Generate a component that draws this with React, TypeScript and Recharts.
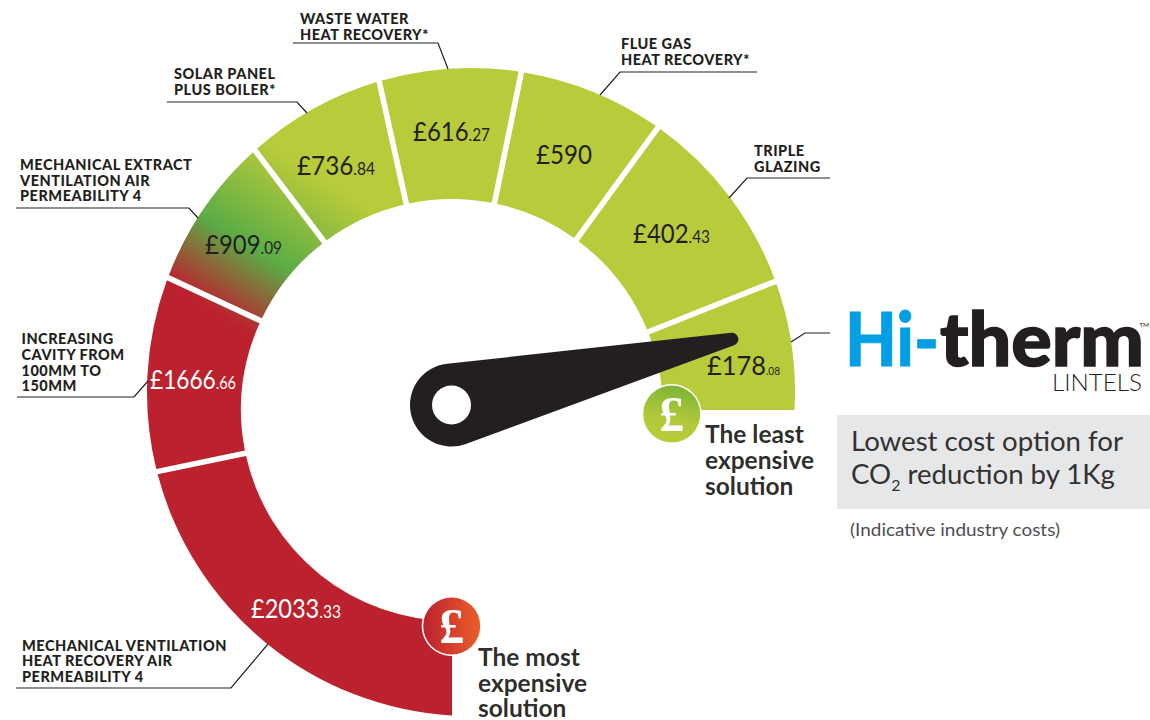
import React from "react";
import { PieChart, Pie } from "recharts";

// ---- data ----
const segmentNames: string[][] = [
  ["HI-THERM LINTELS"],
  ["TRIPLE", "GLAZING"],
  ["FLUE GAS", "HEAT RECOVERY*"],
  ["WASTE WATER", "HEAT RECOVERY*"],
  ["SOLAR PANEL", "PLUS BOILER*"],
  ["MECHANICAL EXTRACT", "VENTILATION AIR", "PERMEABILITY 4"],
  ["INCREASING", "CAVITY FROM", "100MM TO", "150MM"],
  ["MECHANICAL VENTILATION", "HEAT RECOVERY AIR", "PERMEABILITY 4"],
];
const costPounds = ["£178", "£402", "£590", "£616", "£736", "£909", "£1666", "£2033"];
const costPence = [".08", ".43", "", ".27", ".84", ".09", ".66", ".33"];
// angular width of each gauge segment, in degrees
const segmentSweeps = [21.7, 32.2, 24.5, 24.1, 24.7, 27.8, 36.8, 78.2];
const needleAngle = 13.2;

const rows = segmentSweeps.map((sweep, i) => ({
  name: segmentNames[i].join(" "),
  sweep,
  pounds: costPounds[i],
  pence: costPence[i],
}));

// ---- layout ----
const W = 1150;
const H = 720;
const CX = 452;
const CY = 410;
const R_IN = 211;
const OUTER = { cx: 471, cy: 392, r: 324 };
const GAP = 2.8;
const INK = "#231F20";
const BODY_FONT = "Lato, 'Open Sans', sans-serif";

const valueLabelAt = [
  { x: 707, y: 375, w: 73, small: 10.5, fill: INK },
  { x: 633, y: 243, w: 77, small: 17, fill: INK },
  { x: 536, y: 164, w: 56, small: 17, fill: INK },
  { x: 413, y: 141, w: 77, small: 17, fill: INK },
  { x: 297, y: 175, w: 78, small: 17, fill: INK },
  { x: 205, y: 254, w: 77, small: 17, fill: INK },
  { x: 150, y: 389, w: 86, small: 17, fill: "#fff" },
  { x: 251, y: 618, w: 90, small: 17.5, fill: "#fff" },
];

const leaderPaths = [
  "791,342 805,333 830,333",
  "729,198 747,178 830,178",
  "600,95 620,72 757,72",
  "448,69 438,43 293,43",
  "307,113 297,102 167,102",
  "198,218 189,208 16,208",
  "148,381 134,397 17,397",
  "268,644 231,688 16,688",
];
const nameBlocks = [
  { x: 754, ys: [156, 172], lines: segmentNames[1] },
  { x: 621, ys: [49, 65], lines: segmentNames[2] },
  { x: 300, ys: [24, 40], lines: segmentNames[3] },
  { x: 174, ys: [79, 95], lines: segmentNames[4] },
  { x: 20, ys: [170, 185.5, 201], lines: segmentNames[5] },
  { x: 21.5, ys: [344, 360, 375.5, 391], lines: segmentNames[6] },
  { x: 22, ys: [651, 666, 682], lines: segmentNames[7] },
];

// ---- geometry helpers (the outer rim is not concentric with the hub) ----
const rad = (d: number) => (d * Math.PI) / 180;
const dir = (a: number) => ({ x: Math.cos(rad(a)), y: -Math.sin(rad(a)) });
const nrm = (a: number) => ({ x: -Math.sin(rad(a)), y: -Math.cos(rad(a)) });

function hit(o: { x: number; y: number }, u: { x: number; y: number }, k: { cx: number; cy: number; r: number }) {
  const fx = o.x - k.cx;
  const fy = o.y - k.cy;
  const b = fx * u.x + fy * u.y;
  const c = fx * fx + fy * fy - k.r * k.r;
  const t = -b + Math.sqrt(b * b - c);
  return { x: o.x + t * u.x, y: o.y + t * u.y };
}

function GaugeSector(props: any) {
  const { cx, cy, startAngle, endAngle, innerRadius, fill } = props;
  const rim = { cx: cx + (OUTER.cx - CX), cy: cy + (OUTER.cy - CY), r: OUTER.r };
  const hub = { cx, cy, r: innerRadius };
  const gs = Math.abs(startAngle) < 0.01 ? 0 : GAP;
  const ge = Math.abs(endAngle - 270) < 0.01 ? 0 : GAP;
  const ns = nrm(startAngle);
  const ne = nrm(endAngle);
  const os = { x: cx + ns.x * gs, y: cy + ns.y * gs };
  const oe = { x: cx - ne.x * ge, y: cy - ne.y * ge };
  const a = hit(os, dir(startAngle), hub);
  const b = hit(os, dir(startAngle), rim);
  const c = hit(oe, dir(endAngle), rim);
  const d = hit(oe, dir(endAngle), hub);
  const path = `M${a.x},${a.y} L${b.x},${b.y} A${rim.r},${rim.r} 0 0 0 ${c.x},${c.y} L${d.x},${d.y} A${hub.r},${hub.r} 0 0 1 ${a.x},${a.y} Z`;
  return <path d={path} fill={fill} stroke="none" />;
}

function renderValueLabel(props: any) {
  const at = valueLabelAt[props.index];
  const row = rows[props.index];
  return (
    <text x={at.x} y={at.y} fill={at.fill} fontFamily={BODY_FONT} fontSize={26.5} textAnchor="start" textLength={at.w} lengthAdjust="spacingAndGlyphs">
      {row.pounds}
      {row.pence ? <tspan fontSize={at.small}>{row.pence}</tspan> : null}
    </text>
  );
}

function Needle() {
  const r0 = 41.5;
  const r1 = 6.5;
  const len = 288;
  const cx0 = 451.5;
  const cy0 = 405;
  const u = dir(needleAngle);
  const tip = { x: cx0 + u.x * len, y: cy0 + u.y * len };
  const phi = (Math.acos((r0 - r1) / len) * 180) / Math.PI;
  const p = (c: { x: number; y: number }, r: number, a: number) => {
    const v = dir(a);
    return `${c.x + v.x * r},${c.y + v.y * r}`;
  };
  const hubC = { x: cx0, y: cy0 };
  const d = `M${p(hubC, r0, needleAngle + phi)} L${p(tip, r1, needleAngle + phi)} A${r1},${r1} 0 0 1 ${p(tip, r1, needleAngle - phi)} L${p(hubC, r0, needleAngle - phi)} A${r0},${r0} 0 1 1 ${p(hubC, r0, needleAngle + phi)} Z`;
  return (
    <g>
      <path d={d} fill={INK} />
      <circle cx={cx0} cy={cy0} r={19.5} fill="#fff" />
    </g>
  );
}

function Badge({ cx, cy, grad }: { cx: number; cy: number; grad: string }) {
  return (
    <g>
      <circle cx={cx} cy={cy} r={30} fill="#fff" />
      <circle cx={cx} cy={cy} r={28.5} fill={`url(#${grad})`} />
      <text x={cx} y={cy + 17} textAnchor="middle" fill="#fff" fontFamily="'Liberation Serif', serif" fontWeight={700} fontSize={50}>
        £
      </text>
    </g>
  );
}

function Caption({ x, ys, lines }: { x: number; ys: number[]; lines: string[] }) {
  return (
    <g>
      {lines.map((l, i) => (
        <text key={l} x={x} y={ys[i]} fontFamily={BODY_FONT} fontWeight={700} fontSize={24.5} fill={INK} fillOpacity={0.95}>
          {l}
        </text>
      ))}
    </g>
  );
}

export default function App() {
  return (
    <div style={{ position: "absolute", left: 0, top: 0, width: W, height: H, background: "#fff" }}>
      <PieChart width={W} height={H} margin={{ top: 0, right: 0, bottom: 0, left: 0 }}>
        <defs>
          <linearGradient id="gaugeGrad" gradientUnits="userSpaceOnUse" x1={168} y1={280} x2={259.6} y2={139.2}>
            <stop offset="0" stopColor="#BC212E" />
            <stop offset="0.435" stopColor="#5BAC45" />
            <stop offset="1" stopColor="#B8CB3A" />
          </linearGradient>
        </defs>
        <Pie
          data={rows}
          dataKey="sweep"
          nameKey="name"
          cx={CX}
          cy={CY}
          innerRadius={R_IN}
          outerRadius={OUTER.r}
          startAngle={0}
          endAngle={270}
          paddingAngle={0}
          fill="url(#gaugeGrad)"
          stroke="none"
          isAnimationActive={false}
          shape={GaugeSector}
          label={renderValueLabel}
          labelLine={false}
        />
      </PieChart>
      <svg width={W} height={H} style={{ position: "absolute", left: 0, top: 0, pointerEvents: "none" }}>
        <defs>
          <linearGradient id="badgeGreen" x1="0.6" y1="0" x2="0.4" y2="1">
            <stop offset="0" stopColor="#7AB534" />
            <stop offset="0.6" stopColor="#B3C93B" />
            <stop offset="1" stopColor="#B8CB3A" />
          </linearGradient>
          <linearGradient id="badgeRed" x1="0" y1="0" x2="1" y2="0">
            <stop offset="0" stopColor="#BC212E" />
            <stop offset="1" stopColor="#EC5E2A" />
          </linearGradient>
        </defs>
        {leaderPaths.map((pts) => (
          <polyline key={pts} points={pts} fill="none" stroke={INK} strokeWidth={1.2} />
        ))}
        {nameBlocks.map((b) =>
          b.lines.map((l, i) => (
            <text key={b.x + l} x={b.x} y={b.ys[i]} fontFamily={BODY_FONT} fontWeight={900} fontSize={14.5} letterSpacing={0.5} fill={INK}>
              {l}
            </text>
          ))
        )}
        <Needle />
        <Badge cx={671.7} cy={414} grad="badgeGreen" />
        <Badge cx={451.7} cy={626} grad="badgeRed" />
        <Caption x={705} ys={[443, 469, 495]} lines={["The least", "expensive", "solution"]} />
        <Caption x={478} ys={[666, 692, 717]} lines={["The most", "expensive", "solution"]} />

        <text x={845} y={366} fontFamily="Lato, sans-serif" fontWeight={900} fontSize={74} fill="#009FE3" stroke="#009FE3" strokeWidth={0.8} textLength={94} lengthAdjust="spacingAndGlyphs">
          Hi-
        </text>
        <text x={940} y={366} fontFamily="Lato, sans-serif" fontWeight={900} fontSize={74} fill={INK} stroke={INK} strokeWidth={1.5} textLength={204} lengthAdjust="spacingAndGlyphs">
          therm
        </text>
        <text x={1149} y={327} textAnchor="end" fontFamily="Lato, sans-serif" fontSize={6.5} fill={INK}>
          TM
        </text>
        <text x={1142} y={391} textAnchor="end" fontFamily="Lato, sans-serif" fontWeight={300} fontSize={24} fill={INK} textLength={90} lengthAdjust="spacingAndGlyphs">
          LINTELS
        </text>

        <rect x={837} y={415} width={313} height={94} fill="#E6E7E8" />
        <text x={851} y={451} fontFamily={BODY_FONT} fontSize={26} fill="#333132" textLength={272} lengthAdjust="spacingAndGlyphs">
          Lowest cost option for
        </text>
        <text x={851} y={484} fontFamily={BODY_FONT} fontSize={26} fill="#333132" textLength={264} lengthAdjust="spacingAndGlyphs">
          CO<tspan fontSize={15} dy={7}>2</tspan>
          <tspan dy={-7}> reduction by 1Kg</tspan>
        </text>
        <text x={850} y={536} fontFamily={BODY_FONT} fontSize={17.5} fill="#4D4D4F" textLength={210} lengthAdjust="spacingAndGlyphs">
          (Indicative industry costs)
        </text>
      </svg>
    </div>
  );
}
